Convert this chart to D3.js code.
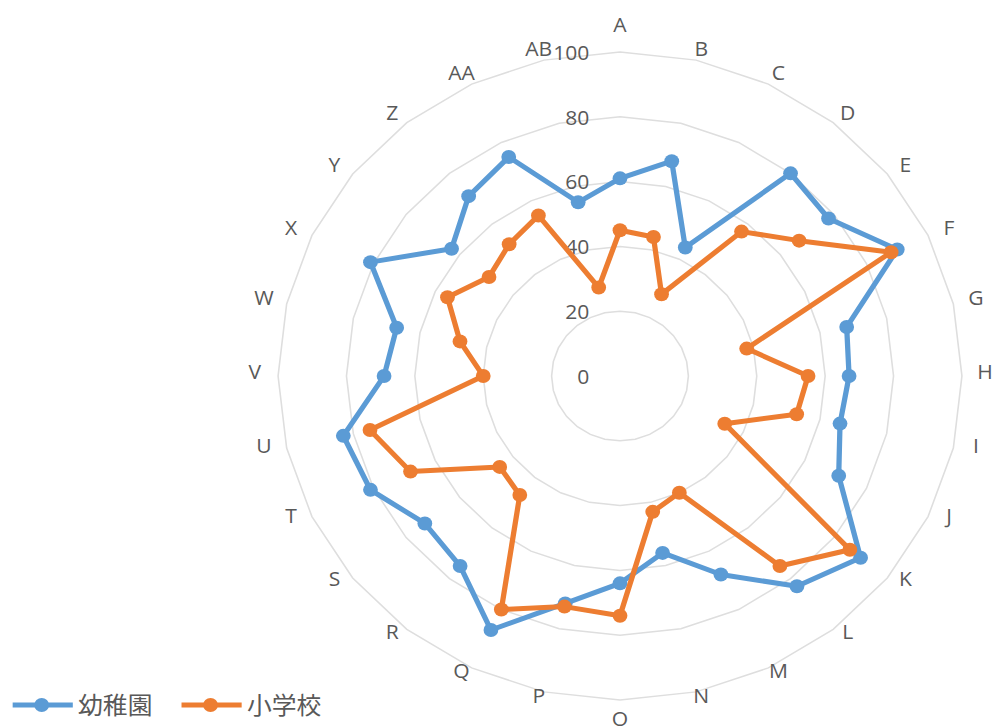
<!DOCTYPE html>
<html lang="ja">
<head>
  <meta charset="UTF-8">
  <title>幼稚園・小学校 レーダーチャート</title>
  <script src="https://d3js.org/d3.v7.min.js"></script>
  <style>
    body {
      margin: 0;
      background-color: #ffffff;
      font-family: "Open Sans", "Noto Sans CJK JP", sans-serif;
    }
    #chart svg {
      display: block;
    }
  </style>
</head>
<body>
  <div id="chart"></div>

  <script>
    // データ
    const categories = ["A", "B", "C", "D", "E", "F", "G", "H", "I", "J", "K", "L", "M", "N",
                        "O", "P", "Q", "R", "S", "T", "U", "V", "W", "X", "Y", "Z", "AA", "AB"];
    const kindergarten = [61, 68, 44, 80, 78, 90, 68, 67, 66, 71, 90, 83, 68, 56,
                          64, 72, 87, 75, 73, 81, 83, 69, 67, 81, 63, 71, 75, 55];
    const elementary = [45, 44, 28, 57, 67, 88, 38, 55, 53, 34, 86, 75, 40, 43,
                        74, 73, 80, 47, 45, 68, 75, 40, 48, 56, 49, 52, 55, 28];
    const seriesNames = ["幼稚園", "小学校"];
    const tickValues = [0, 20, 40, 60, 80, 100];

    const width = 992;
    const height = 726;
    // 元画像は横にやや引き伸ばされているので viewBox で合わせる
    const vbWidth = 940;
    const cx = 587.5;
    const cy = 376;
    const colors = ["#5b9bd5", "#ed7d31"];

    const svg = d3.select("#chart")
      .append("svg")
      .attr("width", width)
      .attr("height", height)
      .attr("viewBox", `0 0 ${vbWidth} ${height}`)
      .attr("preserveAspectRatio", "none");

    const r = d3.scaleLinear().domain([0, 100]).range([0, 324]);

    const angle = i => i * 2 * Math.PI / categories.length;
    const px = (i, v) => cx + r(v) * Math.sin(angle(i));
    const py = (i, v) => cy - r(v) * Math.cos(angle(i));

    // 項目ラベルの位置(縦軸上のラベルは少し外側)
    const labelX = i => cx + 346 * Math.sin(angle(i));
    const labelY = i => {
      const c = Math.cos(angle(i));
      const ry = Math.abs(c) > 0.99 ? 347 : 332;
      return cy - 4.5 - ry * c;
    };

    // グリッド(28角形)
    const gridLine = d3.line().curve(d3.curveLinearClosed);
    svg.append("g")
      .selectAll("path")
      .data(tickValues.filter(t => t > 0))
      .join("path")
      .attr("d", t => gridLine(categories.map((c, i) => [px(i, t), py(i, t)])))
      .attr("fill", "none")
      .attr("stroke", "#dedede")
      .attr("stroke-width", 1.5);

    // 目盛ラベル
    svg.append("g")
      .selectAll("text")
      .data(tickValues)
      .join("text")
      .attr("x", cx - 29)
      .attr("y", t => cy - r(t))
      .attr("text-anchor", "end")
      .attr("dominant-baseline", "central")
      .attr("font-size", 20)
      .attr("fill", "#595959")
      .text(t => t);

    // 項目ラベル
    svg.append("g")
      .selectAll("text")
      .data(categories)
      .join("text")
      .attr("x", (c, i) => labelX(i))
      .attr("y", (c, i) => labelY(i))
      .attr("text-anchor", "middle")
      .attr("dominant-baseline", "central")
      .attr("font-size", 20)
      .attr("fill", "#595959")
      .text(c => c);

    // 系列
    const series = [kindergarten, elementary];
    series.forEach((values, s) => {
      const g = svg.append("g");
      g.append("path")
        .attr("d", gridLine(values.map((v, i) => [px(i, v), py(i, v)])))
        .attr("fill", "none")
        .attr("stroke", colors[s])
        .attr("stroke-width", 5)
        .attr("stroke-linejoin", "round");
      g.selectAll("circle")
        .data(values)
        .join("circle")
        .attr("cx", (v, i) => px(i, v))
        .attr("cy", (v, i) => py(i, v))
        .attr("r", 7)
        .attr("fill", colors[s]);
    });

    // 凡例
    const legendX = [12, 172];
    const legend = svg.append("g")
      .selectAll("g")
      .data(seriesNames)
      .join("g")
      .attr("transform", (d, i) => `translate(${legendX[i]},705)`);
    legend.append("line")
      .attr("x1", 0).attr("x2", 57)
      .attr("stroke", (d, i) => colors[i])
      .attr("stroke-width", 5);
    legend.append("circle")
      .attr("cx", 27.5)
      .attr("r", 7)
      .attr("fill", (d, i) => colors[i]);
    legend.append("text")
      .attr("x", 62)
      .attr("dominant-baseline", "central")
      .attr("font-size", 23.5)
      .attr("fill", "#595959")
      .text(d => d);
  </script>
</body>
</html>
